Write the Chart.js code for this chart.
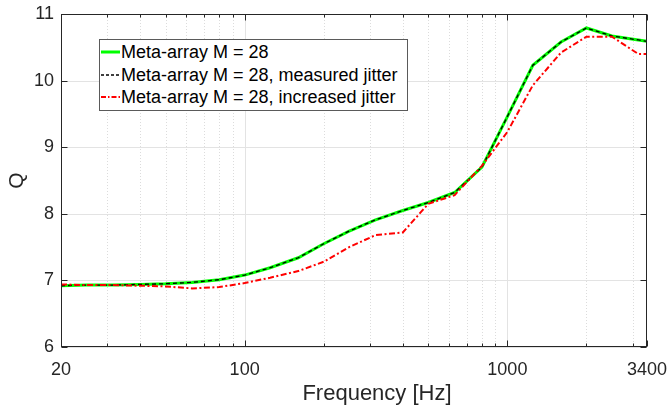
<!DOCTYPE html>
<html>
<head>
<meta charset="utf-8">
<script src="https://cdn.jsdelivr.net/npm/chart.js@4"></script>
<style>
  body { margin: 0; background: #fff; }
  #wrap { position: relative; width: 670px; height: 411px; }
  #legend {
    position: absolute; left: 99px; top: 39px; width: 307px; height: 70px;
    border: 1px solid #5a5a5a; background: #fff;
    font-family: "Liberation Sans", Arial, sans-serif; font-size: 18px; color: #000;
  }
  .row { position: absolute; left: 1px; height: 22px; line-height: 22px; white-space: nowrap; }
  .row svg { position: absolute; left: 0; top: 0; }
  .row span { position: absolute; left: 20px; top: 0; }
</style>
</head>
<body>
<div id="wrap">
  <canvas id="chart" width="670" height="411"></canvas>
  <div id="legend"></div>
</div>
<script>
// third-octave band centres
const freqs = [20, 25, 31.5, 40, 50, 63, 80, 100, 125, 160, 200, 250, 315, 400, 500, 630, 800, 1000, 1250, 1600, 2000, 2500, 3150, 3400];
const qMeta = [6.92, 6.93, 6.93, 6.94, 6.95, 6.97, 7.01, 7.08, 7.19, 7.34, 7.55, 7.74, 7.91, 8.05, 8.17, 8.32, 8.70, 9.46, 10.23, 10.58, 10.79, 10.67, 10.61, 10.59];
const qMeasured = [6.92, 6.93, 6.93, 6.94, 6.95, 6.97, 7.01, 7.08, 7.19, 7.34, 7.55, 7.74, 7.91, 8.05, 8.17, 8.32, 8.70, 9.46, 10.23, 10.58, 10.79, 10.67, 10.61, 10.59];
const qIncreased = [6.94, 6.93, 6.93, 6.92, 6.91, 6.88, 6.90, 6.96, 7.04, 7.14, 7.28, 7.50, 7.68, 7.72, 8.15, 8.28, 8.72, 9.23, 9.93, 10.42, 10.66, 10.66, 10.40, 10.40];

const seriesNames = ['Meta-array M = 28', 'Meta-array M = 28, measured jitter', 'Meta-array M = 28, increased jitter'];
const xTickValues = [20, 100, 1000, 3400];
const xMinorValues = [30, 40, 50, 60, 70, 80, 90, 200, 300, 400, 500, 600, 700, 800, 900, 2000, 3000];
const xMajorGrid = [100, 1000];
const yTickValues = [6, 7, 8, 9, 10, 11];
const xTitle = 'Frequency [Hz]';

const FONT = '"Liberation Sans", Arial, sans-serif';
const AXIS = '#262626';

function toPoints(ys) {
  return freqs.map((f, i) => ({ x: f, y: ys[i] }));
}

// grid, frame box and inward ticks, MATLAB style
const framePlugin = {
  id: 'frame',
  beforeDatasetsDraw(chart) {
    const { ctx, chartArea: a, scales } = chart;
    ctx.save();
    ctx.lineWidth = 1;
    ctx.strokeStyle = '#dcdcdc';
    ctx.setLineDash([1, 2]);
    xMinorValues.forEach(v => {
      const x = Math.round(scales.x.getPixelForValue(v)) + 0.5;
      ctx.beginPath(); ctx.moveTo(x, a.top); ctx.lineTo(x, a.bottom); ctx.stroke();
    });
    ctx.setLineDash([]);
    ctx.strokeStyle = '#e3e3e3';
    xMajorGrid.forEach(v => {
      const x = Math.round(scales.x.getPixelForValue(v)) + 0.5;
      ctx.beginPath(); ctx.moveTo(x, a.top); ctx.lineTo(x, a.bottom); ctx.stroke();
    });
    yTickValues.forEach(v => {
      const y = Math.round(scales.y.getPixelForValue(v)) + 0.5;
      ctx.beginPath(); ctx.moveTo(a.left, y); ctx.lineTo(a.right, y); ctx.stroke();
    });
    ctx.restore();
  },
  afterDatasetsDraw(chart) {
    const { ctx, chartArea: a, scales } = chart;
    ctx.save();
    ctx.strokeStyle = AXIS;
    ctx.lineWidth = 1;
    const L = Math.round(a.left) + 0.5, R = Math.round(a.right) - 0.5;
    const T = Math.round(a.top) + 0.5, B = Math.round(a.bottom) - 0.5;
    ctx.strokeRect(L, T, R - L, B - T);
    ctx.beginPath();
    yTickValues.forEach(v => {
      const y = Math.round(scales.y.getPixelForValue(v)) + 0.5;
      ctx.moveTo(L, y); ctx.lineTo(L + 6, y);
      ctx.moveTo(R, y); ctx.lineTo(R - 6, y);
    });
    xTickValues.concat(xMinorValues).forEach(v => {
      const len = xMinorValues.includes(v) ? 3 : 6;
      const x = Math.round(scales.x.getPixelForValue(v)) + 0.5;
      ctx.moveTo(x, B); ctx.lineTo(x, B - len);
      ctx.moveTo(x, T); ctx.lineTo(x, T + len);
    });
    ctx.stroke();

    // x axis title, sits a little right of centre in the original
    ctx.fillStyle = AXIS;
    ctx.font = '22px ' + FONT;
    ctx.textAlign = 'center';
    ctx.textBaseline = 'middle';
    ctx.fillText(xTitle, (a.left + a.right) / 2 + 23, a.bottom + 47);
    ctx.restore();
  }
};

new Chart(document.getElementById('chart'), {
  type: 'line',
  data: {
    datasets: [
      { label: seriesNames[0], data: toPoints(qMeta), borderColor: '#00ff00', borderWidth: 3, order: 3 },
      { label: seriesNames[1], data: toPoints(qMeasured), borderColor: '#000000', borderWidth: 1.3, borderDash: [4, 3], order: 2 },
      { label: seriesNames[2], data: toPoints(qIncreased), borderColor: '#ff0000', borderWidth: 2, borderDash: [6, 2.5, 2, 2.5], order: 1 }
    ]
  },
  options: {
    responsive: false,
    animation: false,
    elements: { point: { radius: 0 }, line: { tension: 0, fill: false } },
    layout: { padding: { top: 14, right: 23, left: 0, bottom: 0 } },
    plugins: { legend: { display: false }, tooltip: { enabled: false } },
    scales: {
      x: {
        type: 'logarithmic',
        min: 20,
        max: 3400,
        afterBuildTicks: s => { s.ticks = xTickValues.map(v => ({ value: v })); },
        afterFit: s => { s.height = 64; s.paddingLeft = 0; s.paddingRight = 0; },
        grid: { display: false, drawTicks: false },
        border: { display: false },
        ticks: {
          autoSkip: false, maxRotation: 0, padding: 12,
          color: AXIS, font: { family: FONT, size: 18 },
          callback: v => String(v)
        }
      },
      y: {
        min: 6,
        max: 11,
        afterBuildTicks: s => { s.ticks = yTickValues.map(v => ({ value: v })); },
        afterFit: s => { s.width = 61; s.paddingTop = 0; s.paddingBottom = 0; },
        grid: { display: false, drawTicks: false },
        border: { display: false },
        ticks: { padding: 7, color: AXIS, font: { family: FONT, size: 18 } },
        title: { display: true, text: 'Q', color: AXIS, font: { family: FONT, size: 21 }, padding: { top: 5, bottom: 0 } }
      }
    }
  },
  plugins: [framePlugin]
});

// legend drawn as html inside the axes, like the MATLAB one
const legendStyles = [
  { color: '#00ff00', width: 3, dash: '' },
  { color: '#000000', width: 1.3, dash: '3,2' },
  { color: '#ff0000', width: 2, dash: '5,2,1.5,2' }
];
const legendTops = [1, 24, 46];
const legend = document.getElementById('legend');
seriesNames.forEach((name, i) => {
  const st = legendStyles[i];
  const row = document.createElement('div');
  row.className = 'row';
  row.style.top = legendTops[i] + 'px';
  row.innerHTML = `
      <svg width="20" height="22"><line x1="0" y1="11" x2="19" y2="11" stroke="${st.color}" stroke-width="${st.width}" stroke-dasharray="${st.dash}"/></svg>
      <span>${name}</span>
    `;
  legend.appendChild(row);
});
</script>
</body>
</html>
